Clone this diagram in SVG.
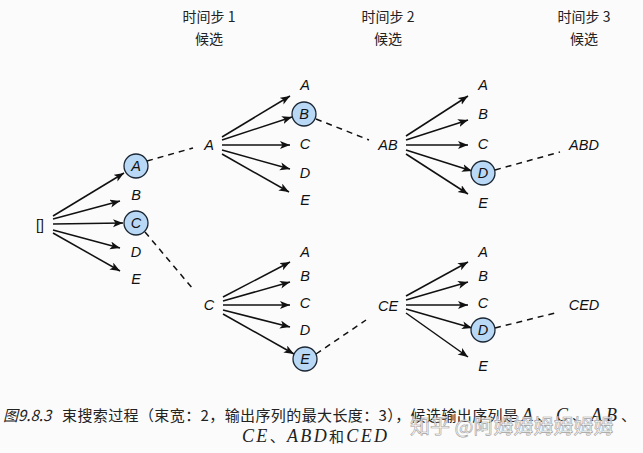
<svg xmlns="http://www.w3.org/2000/svg" width="643" height="453" viewBox="0 0 643 453">
  <defs>
    <marker id="arrow" markerUnits="userSpaceOnUse" markerWidth="12" markerHeight="10" refX="10" refY="4" orient="auto">
      <path d="M0,0 L10,4 L0,8 L2.5,4 Z" fill="#111"/>
    </marker>
    <style>
      .hdr { font-family: "Noto Sans CJK SC", "Noto Sans", sans-serif; font-size: 14px; fill: #222; text-anchor: middle; }
      .lbl { font-family: "Liberation Sans", Arial, sans-serif; font-style: italic; font-size: 14.5px; fill: #111; text-anchor: middle; }
      .root { font-family: "Liberation Sans", Arial, sans-serif; font-size: 14px; fill: #111; text-anchor: middle; }
      .sel { fill: #b9d8f6; stroke: #1b2633; stroke-width: 1.3; }
      .arr { stroke: #111; stroke-width: 1.5; fill: none; marker-end: url(#arrow); }
      .dash { stroke: #111; stroke-width: 1.5; fill: none; stroke-dasharray: 6 5; }
      .cap { font-family: "Noto Sans CJK SC", "Noto Sans", sans-serif; font-size: 15px; fill: #222; }
      .math { font-family: "Liberation Serif", "Times New Roman", serif; font-style: italic; font-size: 18px; fill: #222; }
      .wm { font-family: "Noto Sans CJK SC", sans-serif; font-size: 20px; fill: #ffffff; fill-opacity: 0.8; stroke: #a0a0a0; stroke-width: 0.6; }
    </style>
  </defs>

  <rect width="643" height="453" fill="#fbfbfb"/>

  <!-- column headers -->
  <g id="headers">
    <text class="hdr" x="209" y="22">时间步 1</text>
    <text class="hdr" x="209" y="44">候选</text>
    <text class="hdr" x="388" y="22">时间步 2</text>
    <text class="hdr" x="388" y="44">候选</text>
    <text class="hdr" x="584" y="22">时间步 3</text>
    <text class="hdr" x="584" y="44">候选</text>
  </g>

  <!-- connectors -->
  <g id="connectors">
    <!-- root to step 1 -->
    <line class="arr" x1="53" y1="216" x2="124" y2="173"/>
    <line class="arr" x1="53" y1="219" x2="120" y2="201"/>
    <line class="arr" x1="53" y1="224" x2="123" y2="223"/>
    <line class="arr" x1="53" y1="230" x2="120" y2="248"/>
    <line class="arr" x1="53" y1="233" x2="120" y2="271"/>
    <!-- kept candidates to step 2 prefixes -->
    <line class="dash" x1="147" y1="161" x2="193" y2="148"/>
    <line class="dash" x1="145" y1="232" x2="193" y2="289"/>
    <!-- prefix A expansions -->
    <line class="arr" x1="222" y1="137" x2="290" y2="96"/>
    <line class="arr" x1="222" y1="140" x2="292" y2="117"/>
    <line class="arr" x1="222" y1="145" x2="290" y2="145"/>
    <line class="arr" x1="222" y1="150" x2="290" y2="169"/>
    <line class="arr" x1="222" y1="154" x2="289" y2="192"/>
    <!-- prefix C expansions -->
    <line class="arr" x1="223" y1="297" x2="290" y2="262"/>
    <line class="arr" x1="223" y1="301" x2="290" y2="282"/>
    <line class="arr" x1="223" y1="305" x2="290" y2="305"/>
    <line class="arr" x1="223" y1="310" x2="290" y2="327"/>
    <line class="arr" x1="223" y1="314" x2="294" y2="354"/>
    <!-- kept to step 3 prefixes -->
    <line class="dash" x1="316" y1="119" x2="369" y2="140"/>
    <line class="dash" x1="316" y1="354" x2="366" y2="320"/>
    <!-- prefix AB expansions -->
    <line class="arr" x1="406" y1="136" x2="468" y2="96"/>
    <line class="arr" x1="406" y1="140" x2="468" y2="120"/>
    <line class="arr" x1="406" y1="145" x2="468" y2="145"/>
    <line class="arr" x1="406" y1="150" x2="472" y2="171"/>
    <line class="arr" x1="406" y1="154" x2="468" y2="194"/>
    <!-- prefix CE expansions -->
    <line class="arr" x1="406" y1="296" x2="468" y2="262"/>
    <line class="arr" x1="406" y1="300" x2="468" y2="282"/>
    <line class="arr" x1="406" y1="305" x2="468" y2="305"/>
    <line class="arr" x1="406" y1="309" x2="472" y2="328"/>
    <line class="arr" x1="406" y1="313" x2="468" y2="357"/>
    <!-- final sequences -->
    <line class="dash" x1="495" y1="170" x2="560" y2="152"/>
    <line class="dash" x1="495" y1="328" x2="555" y2="313"/>
  </g>

  <!-- root -->
  <g id="root"><text class="root" x="40" y="230">[]</text></g>

  <!-- step 1 candidates -->
  <g id="s1-A"><circle class="sel" cx="136" cy="166" r="12"/><text class="lbl" x="136" y="171">A</text></g>
  <g id="s1-B"><text class="lbl" x="136" y="200">B</text></g>
  <g id="s1-C"><circle class="sel" cx="136" cy="223" r="12"/><text class="lbl" x="136" y="228">C</text></g>
  <g id="s1-D"><text class="lbl" x="136" y="257">D</text></g>
  <g id="s1-E"><text class="lbl" x="136" y="284">E</text></g>

  <!-- step 2 prefixes -->
  <g id="p-A"><text class="lbl" x="209" y="150">A</text></g>
  <g id="p-C"><text class="lbl" x="209" y="310">C</text></g>

  <!-- step 2 candidates after A -->
  <g id="s2a-A"><text class="lbl" x="305" y="90">A</text></g>
  <g id="s2a-B"><circle class="sel" cx="304" cy="114" r="12"/><text class="lbl" x="304" y="119">B</text></g>
  <g id="s2a-C"><text class="lbl" x="305" y="149">C</text></g>
  <g id="s2a-D"><text class="lbl" x="305" y="178">D</text></g>
  <g id="s2a-E"><text class="lbl" x="305" y="205">E</text></g>

  <!-- step 2 candidates after C -->
  <g id="s2c-A"><text class="lbl" x="305" y="257">A</text></g>
  <g id="s2c-B"><text class="lbl" x="305" y="281">B</text></g>
  <g id="s2c-C"><text class="lbl" x="305" y="308">C</text></g>
  <g id="s2c-D"><text class="lbl" x="305" y="335">D</text></g>
  <g id="s2c-E"><circle class="sel" cx="305" cy="359" r="12"/><text class="lbl" x="305" y="364">E</text></g>

  <!-- step 3 prefixes -->
  <g id="p-AB"><text class="lbl" x="388" y="150">AB</text></g>
  <g id="p-CE"><text class="lbl" x="388" y="311">CE</text></g>

  <!-- step 3 candidates after AB -->
  <g id="s3ab-A"><text class="lbl" x="483" y="90">A</text></g>
  <g id="s3ab-B"><text class="lbl" x="483" y="119">B</text></g>
  <g id="s3ab-C"><text class="lbl" x="483" y="149">C</text></g>
  <g id="s3ab-D"><circle class="sel" cx="483" cy="173" r="12"/><text class="lbl" x="483" y="178">D</text></g>
  <g id="s3ab-E"><text class="lbl" x="483" y="208">E</text></g>

  <!-- step 3 candidates after CE -->
  <g id="s3ce-A"><text class="lbl" x="483" y="257">A</text></g>
  <g id="s3ce-B"><text class="lbl" x="483" y="281">B</text></g>
  <g id="s3ce-C"><text class="lbl" x="483" y="308">C</text></g>
  <g id="s3ce-D"><circle class="sel" cx="483" cy="330" r="12"/><text class="lbl" x="483" y="335">D</text></g>
  <g id="s3ce-E"><text class="lbl" x="483" y="371">E</text></g>

  <!-- final outputs -->
  <g id="out-ABD"><text class="lbl" x="584" y="150">ABD</text></g>
  <g id="out-CED"><text class="lbl" x="584" y="310">CED</text></g>

  <!-- caption -->
  <g id="caption">
    <text class="cap" x="3" y="421" font-style="italic">图9.8.3</text>
    <text class="cap" x="62" y="421" textLength="456" lengthAdjust="spacing">束搜索过程（束宽：2，输出序列的最大长度：3），候选输出序列是</text>
    <text x="522" y="421" textLength="114" lengthAdjust="spacing"><tspan class="math">A</tspan><tspan class="cap">、</tspan><tspan class="math">C</tspan><tspan class="cap">、</tspan><tspan class="math">AB</tspan><tspan class="cap">、</tspan></text>
    <text x="242" y="442" textLength="145" lengthAdjust="spacing"><tspan class="math">CE</tspan><tspan class="cap">、</tspan><tspan class="math">ABD</tspan><tspan class="cap">和</tspan><tspan class="math">CED</tspan></text>
    <text class="wm" x="410" y="434">知乎 @阿姆姆姆姆姆姆</text>
  </g>
</svg>
